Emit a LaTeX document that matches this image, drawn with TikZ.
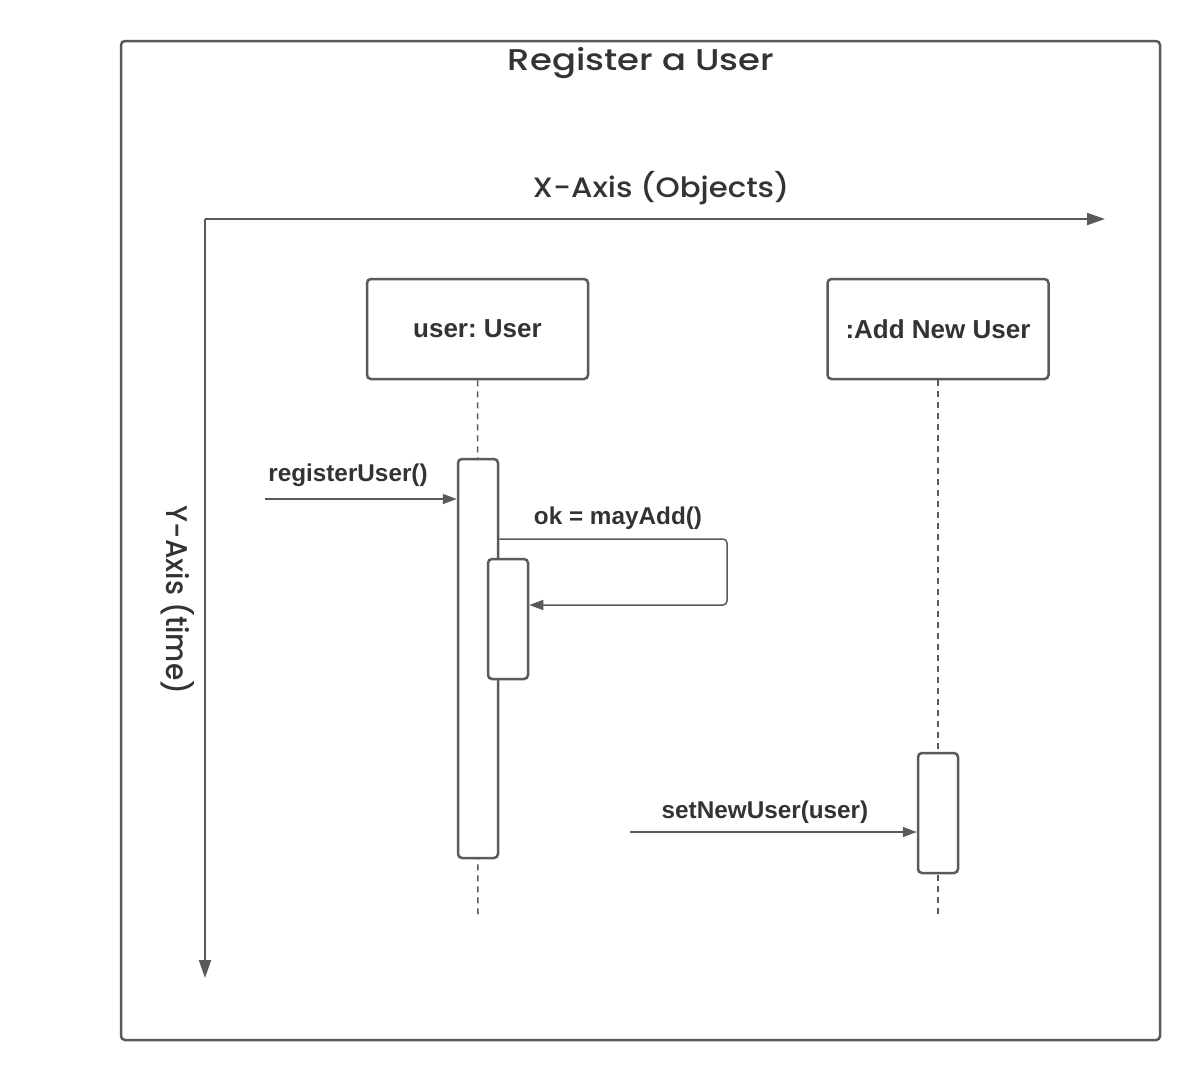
\documentclass[tikz,border=0pt]{standalone}
\usepackage{fontspec}
\setmainfont{Liberation Sans}
\newfontfamily\titlefont{Poppins Medium}
\usetikzlibrary{arrows.meta}
\definecolor{lc}{HTML}{5A5A5A}
\definecolor{tc}{HTML}{333333}
\tikzset{
  frame/.style={draw=lc, line width=2.5pt, rounded corners=4pt},
  obj/.style={draw=lc, line width=2.5pt, rounded corners=4pt, fill=white, minimum width=221pt, minimum height=100pt, inner sep=0pt, font=\fontsize{26}{30}\selectfont\bfseries, text=tc},
  act/.style={draw=lc, line width=2.5pt, rounded corners=4pt, fill=white, minimum width=40pt, inner sep=0pt},
  life/.style={draw=lc, line width=1.5pt, dash pattern=on 6pt off 5pt},
  msg/.style={draw=lc, line width=1.5pt, -{Triangle[length=14pt,width=10pt]}},
  axis/.style={draw=lc, line width=2pt, -{Triangle[length=18pt,width=12pt]}},
  lbl/.style={font=\fontsize{24.3}{28}\selectfont\bfseries, text=tc, inner sep=0pt},
  ttl/.style={font=\titlefont\fontsize{30}{34}\selectfont, text=tc, inner sep=0pt, xscale=1.18},
  axl/.style={font=\titlefont\fontsize{28}{32}\selectfont, text=tc, inner sep=0pt}
}
\frenchspacing
\begin{document}
\frenchspacing
\begin{tikzpicture}[x=1pt,y=-1pt]
\useasboundingbox (0,0) rectangle (1200,1080);
\draw[frame] (121,41) rectangle (1160,1040);
\node[ttl] (title) at (641,63) {Register a User};
% axes
\coordinate (o) at (205,219);
\coordinate (xend) at (1105,219);
\coordinate (yend) at (205,978);
\draw[axis] (o) -- (xend);
\draw[axis] (o) -- (yend);
\node[axl, xscale=1.1] (xl) at (661,188) {X-Axis (Objects)};
\node[axl, rotate=-90, yscale=1.07] (yl) at (178,600) {Y-Axis (time)};
% objects
\node[obj] (u) at (477.5,329) {user: User};
\node[obj] (a) at (938,329) {:Add New User};
\coordinate (ue) at (478,918);
\coordinate (ae) at (938,918);
\draw[life] (u.south) -- (ue);
\draw[life] (a.south) -- (ae);
% activations
\node[act, minimum height=399pt] (a1) at (478,658.5) {};
\node[act, minimum height=120pt] (a2) at (508,619) {};
\node[act, minimum height=120pt] (a3) at (938,813) {};
% messages
\coordinate (rs) at (265,499);
\draw[msg] (rs) -- (rs -| a1.west);
\node[lbl] (rl) at (348,475) {registerUser()};
\coordinate (sm) at (727,539);
\draw[msg, rounded corners=4pt] (a1.east |- sm) -- (sm) -- (727,605) -- (a2.east |- 0,605);
\node[lbl] (ml) at (618,518) {ok = mayAdd()};
\coordinate (ss) at (630,832);
\draw[msg] (ss) -- (ss -| a3.west);
\node[lbl] (sl) at (765,812) {setNewUser(user)};
\end{tikzpicture}
\end{document}
